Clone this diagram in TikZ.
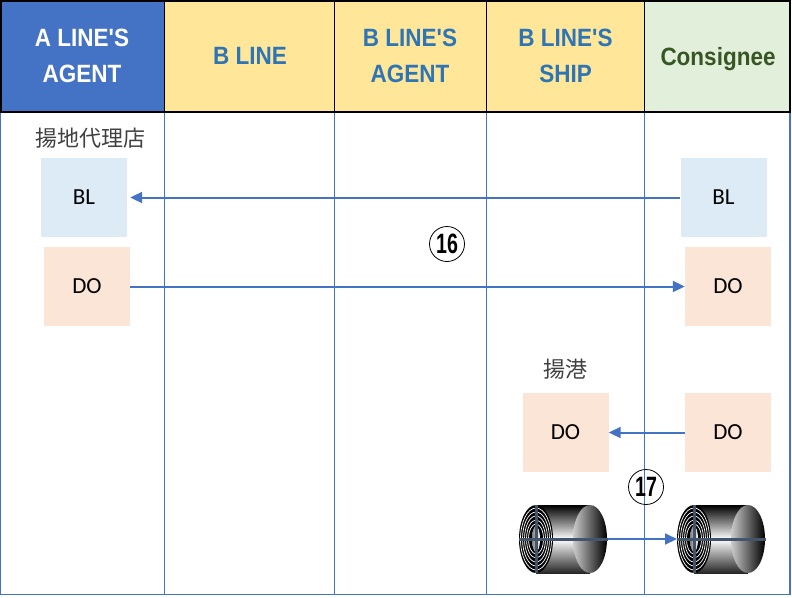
\documentclass[tikz,border=0pt]{standalone}
\usepackage{fontspec}
\setmainfont{Carlito}
\newfontfamily\entetefont{Liberation Sans}
\newfontfamily\jpfont{Noto Sans CJK JP}
\usepackage{tikz}
\usetikzlibrary{arrows.meta}

\definecolor{bleuA}{HTML}{4472C4}
\definecolor{jaune}{HTML}{FFE699}
\definecolor{vertC}{HTML}{E2EFDA}
\definecolor{bleuT}{HTML}{2E75B6}
\definecolor{vertT}{HTML}{375623}
\definecolor{bleuBL}{HTML}{DDEBF7}
\definecolor{roseDO}{HTML}{FBE5D6}
\definecolor{ardoise}{HTML}{44546A}
\definecolor{grisT}{HTML}{404040}

\newcommand{\etroit}[1]{\scalebox{0.9}[1]{#1}}
\newcommand{\chiffre}[1]{\scalebox{0.7}[1]{#1}}

% bobine : #1,#2 centre de la face, #3 nom
\newcommand{\bobine}[3]{%
	\shade[top color=black, bottom color=black!85, middle color=white] (#1,#2-34) rectangle (#1+54,#2+34);
	\shade[left color=white!60!gray, right color=black] (#1+54,#2) ellipse[x radius=17pt, y radius=34pt];
	\fill[black] (#1,#2) ellipse[x radius=17pt, y radius=34pt];
	\foreach \r in {15.5,13.5,11.5,9.5,7.5}
		\draw[white, line width=0.7pt] (#1,#2) ellipse[x radius=\r*1pt, y radius=2*\r*1pt];
	\shade[left color=gray, right color=white] (#1,#2) ellipse[x radius=4pt, y radius=13pt];
	\draw[ardoise, line width=3pt] (#1,#2-34) -- (#1,#2+34) (#1-17,#2) -- (#1+72,#2);
	\coordinate (#3-g) at (#1-17,#2);
	\coordinate (#3-d) at (#1+72,#2);
}

\tikzset{
	entete/.style={align=center, text depth=0pt, font=\entetefont\bfseries\fontsize{25}{36}\selectfont},
	boite/.style={minimum width=86pt, minimum height=79pt, inner sep=0pt, font=\fontsize{23}{26}\selectfont},
	etiquette/.style={grisT, font=\jpfont\fontsize{22}{24}\selectfont},
	cercle/.style={draw, circle, line width=0.8pt, minimum size=35pt, inner sep=0pt, font=\entetefont\bfseries\fontsize{28}{28}\selectfont},
	trait/.style={bleuA, line width=1.2pt},
	fleche/.style={bleuA, line width=2pt, -{Triangle[length=12pt,width=11pt]}}
}

\begin{document}
\begin{tikzpicture}[x=1pt, y=-1pt]
	\useasboundingbox (0,0) rectangle (792,597);
	% en-tete
	\fill[bleuA] (0,0) rectangle (164.5,112);
	\fill[jaune] (164.5,0) rectangle (644.5,112);
	\fill[vertC] (644.5,0) rectangle (790,112);
	% colonnes
	\draw[trait] (0.6,112) -- (0.6,594.5) -- (790,594.5) -- (790,112);
	\draw[trait] (164.5,112) -- (164.5,594.5);
	\draw[trait] (334.5,112) -- (334.5,594.5);
	\draw[trait] (486.5,112) -- (486.5,594.5);
	\draw[trait] (644.5,112) -- (644.5,594.5);
	\draw[line width=1.5pt] (0.75,0.75) rectangle (790,112);
	\draw[line width=1.5pt] (164.5,0) -- (164.5,112) (334.5,0) -- (334.5,112) (486.5,0) -- (486.5,112) (644.5,0) -- (644.5,112);
	\node[entete, white] (hA) at (82,56) {\etroit{A LINE'S}\\\etroit{AGENT}};
	\node[entete, bleuT] (hB) at (250,56) {\etroit{B LINE}};
	\node[entete, bleuT] (hBag) at (410,56) {\etroit{B LINE'S}\\\etroit{AGENT}};
	\node[entete, bleuT] (hNav) at (565.5,56) {\etroit{B LINE'S}\\\etroit{SHIP}};
	\node[entete, vertT] (hDest) at (718,56) {\etroit{Consignee}};
	% documents
	\node[etiquette] (lAg) at (90,138) {揚地代理店};
	\node[etiquette] (lPort) at (565,369) {揚港};
	\node[boite, fill=bleuBL] (blA) at (84,197.5) {BL};
	\node[boite, fill=roseDO] (doA) at (87,286.5) {DO};
	\node[boite, fill=bleuBL] (blD) at (723.5,197.5) {BL};
	\node[boite, fill=roseDO] (doD) at (728,286.5) {DO};
	\node[boite, fill=roseDO] (doP) at (565.5,432.5) {DO};
	\node[boite, fill=roseDO] (doD2) at (728,432.5) {DO};
	\draw[fleche] (blD.west) -- ([xshift=3pt]blA.east);
	\draw[fleche] (doA.east) -- (doD.west);
	\draw[fleche] (doD2.west) -- (doP.east);
	\node[cercle] (n16) at (447,244) {\chiffre{16}};
	\node[cercle] (n17) at (646,487) {\chiffre{17}};
	% bobines
	\bobine{536}{539}{bobP}
	\bobine{694}{539}{bobD}
	\draw[fleche] (bobP-d) -- (bobD-g);
\end{tikzpicture}
\end{document}
